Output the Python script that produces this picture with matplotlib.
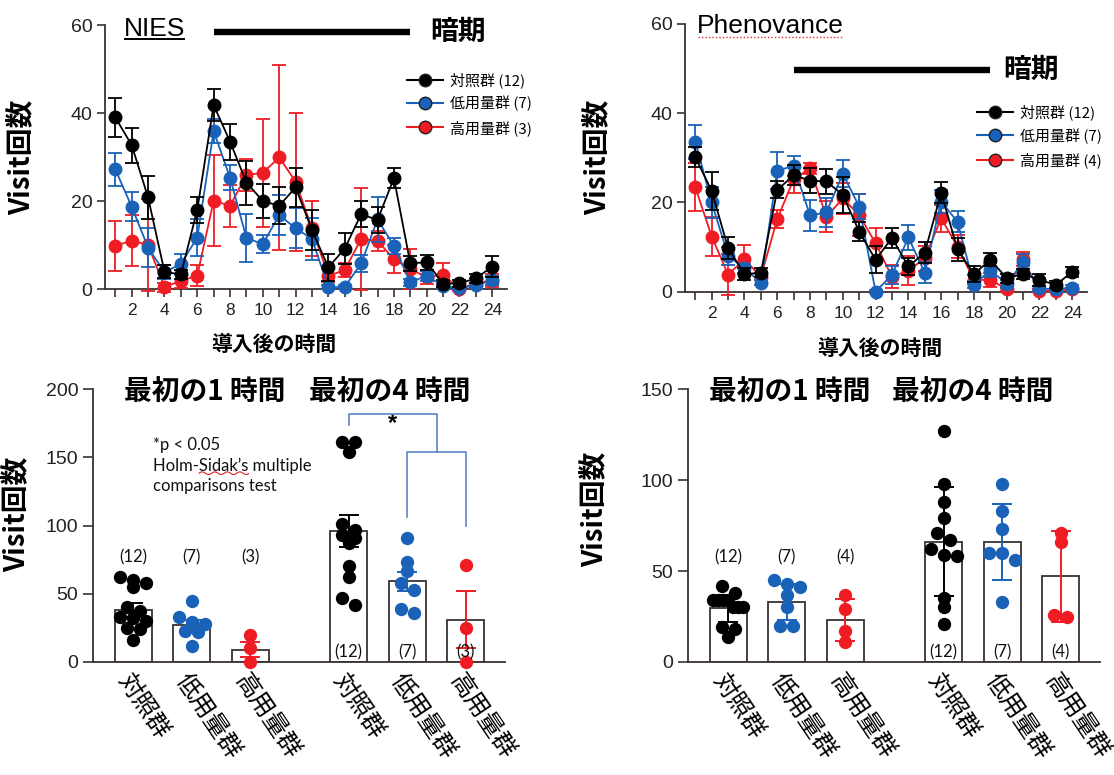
import numpy as np
import matplotlib
matplotlib.use('Agg')
import matplotlib.pyplot as plt
from matplotlib.lines import Line2D

CJK = ['Noto Sans CJK JP', 'DejaVu Sans']
ARIAL = ['Liberation Sans', 'DejaVu Sans']
LATO = ['Lato', 'DejaVu Sans']
NARROW = ['Liberation Sans Narrow', 'Liberation Sans', 'DejaVu Sans']
plt.rcParams['font.family'] = CJK

# ---------------- data ----------------
hours = list(range(1, 25))
hour_tick_labels = [str(h) if h % 2 == 0 else '' for h in hours]
dark_period = (7, 19)
group_names = ['対照群', '低用量群', '高用量群']

# NIES – hourly visits (mean, SEM)
nies_ctrl = [39.0, 32.7, 20.8, 3.9, 3.3, 18.0, 41.8, 33.5, 24.2, 20.0, 18.9, 23.1,
             13.4, 4.9, 9.2, 17.0, 15.7, 25.2, 5.8, 6.1, 1.2, 1.3, 2.4, 5.1]
nies_ctrl_err = [4.4, 4.0, 4.8, 1.5, 1.0, 3.0, 3.6, 4.1, 5.0, 3.8, 4.2, 4.5,
                 4.5, 3.0, 3.5, 2.9, 3.0, 2.3, 1.7, 1.7, 0.8, 0.8, 1.0, 2.3]
nies_low = [27.2, 18.7, 9.4, 3.8, 5.7, 11.7, 35.9, 25.3, 11.6, 10.2, 16.8, 13.8,
            11.4, 0.4, 0.5, 5.8, 15.8, 9.8, 1.5, 3.0, 0.7, 0.2, 0.8, 2.0]
nies_low_err = [3.7, 3.3, 4.4, 1.6, 2.2, 4.2, 2.7, 2.9, 5.5, 2.1, 4.5, 4.5,
                4.7, 0.5, 0.5, 2.0, 5.1, 1.9, 0.8, 1.1, 0.5, 0.3, 0.6, 1.0]
nies_high = [9.8, 11.0, 10.0, 0.4, 1.9, 3.0, 20.1, 18.9, 25.9, 26.4, 29.9, 24.4,
             13.8, 3.0, 4.3, 11.4, 10.9, 6.8, 4.5, 2.7, 3.2, 0.0, 1.4, 1.9]
nies_high_err = [5.7, 5.8, 10.5, 1.0, 1.6, 2.4, 10.4, 4.7, 3.6, 12.3, 21.0, 15.7,
                 6.3, 1.5, 1.5, 11.6, 2.2, 3.2, 4.5, 1.5, 2.6, 0.5, 1.0, 1.5]
nies_n = [12, 7, 3]

# Phenovance – hourly visits (mean, SEM)
pheno_ctrl = [30.1, 22.6, 9.8, 4.0, 4.3, 22.8, 26.1, 24.9, 24.7, 21.7, 13.5, 7.2,
              12.1, 5.7, 8.8, 22.2, 9.5, 4.0, 7.2, 3.1, 4.0, 2.7, 1.6, 4.5]
pheno_ctrl_err = [2.2, 4.3, 2.4, 1.3, 1.0, 1.9, 2.2, 2.7, 2.8, 4.0, 2.2, 3.0,
                  2.3, 2.0, 2.4, 2.4, 2.6, 1.8, 1.5, 1.0, 1.2, 1.4, 0.8, 1.1]
pheno_low = [33.6, 20.0, 8.1, 5.3, 2.1, 27.1, 28.2, 17.1, 17.8, 26.4, 19.1, 0.1,
             3.8, 12.2, 4.3, 20.2, 15.7, 1.6, 4.9, 1.8, 6.6, 0.8, 0.6, 1.0]
pheno_low_err = [3.8, 3.5, 2.0, 1.0, 0.6, 4.1, 2.2, 3.5, 3.2, 3.0, 2.8, 0.3,
                 2.0, 2.8, 2.3, 2.6, 2.4, 0.8, 1.5, 0.8, 1.8, 0.5, 0.4, 0.5]
pheno_high = [23.4, 12.4, 3.9, 7.3, 3.4, 16.3, 25.2, 27.6, 16.8, 20.9, 17.2, 10.9,
              3.4, 4.8, 7.5, 16.5, 10.1, 2.7, 2.7, 0.7, 7.3, 0.3, 0.3, 0.6]
pheno_high_err = [5.4, 4.3, 4.5, 3.2, 0.8, 2.0, 3.0, 1.2, 3.5, 3.5, 4.7, 3.5,
                  2.6, 3.3, 2.8, 3.0, 2.6, 1.0, 1.5, 0.5, 1.6, 0.3, 0.3, 0.4]
pheno_n = [12, 7, 4]

# NIES – first 1 h / first 4 h (individual animals, bar mean, SEM)
nies_1h_ctrl = [62, 60, 58, 55, 40, 37, 33, 32, 30, 25, 24, 16]
nies_1h_low = [45, 33, 29, 28, 23, 22, 12]
nies_1h_high = [20, 10, 0]
nies_4h_ctrl = [161, 161, 154, 101, 97, 93, 91, 87, 70, 62, 47, 42]
nies_4h_low = [91, 73, 67, 58, 53, 39, 36]
nies_4h_high = [71, 25, 0]
nies_bar_mean = [38, 27, 9, 96, 59, 31]
nies_bar_err = [5, 3.5, 5.5, 12, 7, 21]

# Phenovance – first 1 h / first 4 h (individual animals, bar mean, SD)
pheno_1h_ctrl = [42, 38, 34, 34, 34, 34, 30, 30, 30, 19, 18, 14]
pheno_1h_low = [45, 43, 41, 37, 30, 20, 20]
pheno_1h_high = [37, 29, 17, 11]
pheno_4h_ctrl = [127, 98, 88, 79, 71, 67, 62, 59, 58, 35, 30, 21]
pheno_4h_low = [98, 83, 73, 60, 60, 56, 33]
pheno_4h_high = [71, 66, 26, 25]
pheno_bar_mean = [29.5, 33, 23, 66, 66, 47]
pheno_bar_err = [7.5, 10, 11.5, 30, 21, 25]

# ---------------- style ----------------
AXC = '#3a3232'
BLACK, BLUE, RED = '#000000', '#1a62b8', '#f01c24'
colors = [BLACK, BLUE, RED]
W, H = 1114, 775
fig = plt.figure(figsize=(W / 100, H / 100), dpi=100)


def px_axes(l, r, top, bottom):
    return fig.add_axes([l / W, 1 - bottom / H, (r - l) / W, (bottom - top) / H])


def style_spines(ax):
    for s in ('top', 'right'):
        ax.spines[s].set_visible(False)
    for s in ('left', 'bottom'):
        ax.spines[s].set_color(AXC)
        ax.spines[s].set_linewidth(1.3)


def time_panel(ax, series, errs, ns, bar_y, label_x):
    style_spines(ax)
    zs = [5, 4, 3]
    for vals, err, col, z in zip(series, errs, colors, zs):
        cont = ax.errorbar(hours, vals, yerr=err, fmt='-o', color=col, ms=9, mec=col,
                           lw=1.3, elinewidth=1.3, capsize=5, capthick=1.3, zorder=z)
        for a in cont.get_children():
            a.set_clip_on(False)
        cont.lines[0].set_zorder(z + 0.5)
    ax.set_xlim(0.37, 24.9)
    ax.set_ylim(0, 60)
    ax.set_yticks([0, 20, 40, 60])
    ax.set_xticks(hours)
    ax.set_xticklabels(hour_tick_labels)
    ax.tick_params(axis='y', length=6, width=1.2, color=AXC, labelsize=14, pad=3,
                   labelcolor='#222222')
    ax.tick_params(axis='x', length=6, width=1.2, color=AXC, labelsize=12.5, pad=4,
                   labelcolor='#222222')
    for lbl in ax.get_xticklabels() + ax.get_yticklabels():
        lbl.set_fontfamily(ARIAL)
    ax.set_ylabel('Visit回数', fontsize=20, fontweight='bold', labelpad=0)
    ax.set_xlabel('導入後の時間', fontsize=15, fontweight='bold')
    # dark period bar
    ax.plot(dark_period, [bar_y, bar_y], color='black', lw=4.6,
            solid_capstyle='butt', clip_on=False)
    ax.text(label_x, bar_y, '暗期', fontsize=20, fontweight='bold', va='center', ha='left')
    handles = [Line2D([0], [0], color=c, marker='o', ms=9, mfc=c, mec='#202020', lw=1.5)
               for c in colors]
    labels = [f'{g} ({n})' for g, n in zip(group_names, ns)]
    return handles, labels


def swarm_offsets(ax, xc, vals, dx_max, row_px, row_span):
    """GraphPad-like scatter: points binned into rows, each row centred."""
    tr = ax.transData
    vals = np.asarray(vals, dtype=float)
    ypx = tr.transform(np.column_stack([np.full(len(vals), xc), vals]))[:, 1]
    xunit = tr.transform((1, 0))[0] - tr.transform((0, 0))[0]
    order = list(np.argsort(-vals, kind='stable'))
    rows, cur = [], [order[0]]
    for i in order[1:]:
        if ypx[cur[0]] - ypx[i] <= row_px:
            cur.append(i)
        else:
            rows.append(cur)
            cur = [i]
    rows.append(cur)
    offs = np.zeros(len(vals))
    for row in rows:
        n = len(row)
        dx = dx_max if n < 3 else min(dx_max, row_span / (n - 1))
        for k, i in enumerate(row):
            offs[i] = (k - (n - 1) / 2) * dx / xunit
    return offs


bar_pos = np.concatenate([np.arange(3), np.arange(3) + 3.68]) + 1.0


def bar_panel(ax, groups, means, errs, ymax, n_above_y):
    style_spines(ax)
    ax.set_xlim(0.31, 7.35)
    ax.set_ylim(0, ymax)
    ax.set_yticks(np.arange(0, ymax + 1, 50))
    ax.bar(bar_pos, means, width=0.63, color='white', edgecolor=AXC, linewidth=1.3, zorder=2)
    for i, (p, pts) in enumerate(zip(bar_pos, groups)):
        col = colors[i % 3]
        offs = swarm_offsets(ax, p, pts, 13.0, 8.0, 30.0)
        ax.scatter(p + offs, pts, s=92, color=col, linewidths=0, zorder=3, clip_on=False)
        ax.errorbar(p, means[i], yerr=errs[i], color=col, capsize=7, elinewidth=1.4,
                    capthick=1.4, zorder=4)
    for i, (p, pts) in enumerate(zip(bar_pos, groups)):
        y = n_above_y if i < 3 else ymax * 0.035
        ax.text(p, y, f'({len(pts)})', ha='center', va='center', fontsize=12,
                family=LATO, color='#111111', zorder=5)
    ax.set_xticks(bar_pos)
    ax.set_xticklabels(group_names * 2)
    ax.tick_params(axis='x', length=0, pad=5, labelsize=17.5)
    ax.tick_params(axis='y', length=7.5, width=1.2, color=AXC, labelsize=14, pad=3,
                   labelcolor='#222222')
    for lbl in ax.get_yticklabels():
        lbl.set_fontfamily(ARIAL)
    for lbl in ax.get_xticklabels():
        lbl.set_rotation(-56)
        lbl.set_ha('left')
        lbl.set_va('top')
        lbl.set_rotation_mode('anchor')
    ax.set_ylabel('Visit回数', fontsize=20, fontweight='bold', labelpad=0)


legend_kw = dict(loc='upper left', frameon=False, fontsize=10.8, handlelength=2.4,
                 handletextpad=0.5, labelspacing=0.55, borderpad=0, borderaxespad=0)

# ---------------- top-left: NIES ----------------
ax1 = px_axes(105, 507, 25, 289)
h, l = time_panel(ax1, [nies_ctrl, nies_low, nies_high],
                  [nies_ctrl_err, nies_low_err, nies_high_err], nies_n, 58.4, 20.2)
ax1.legend(h, l, bbox_to_anchor=(0.751, 0.822), **legend_kw)
ax1.yaxis.set_label_coords(-0.17, 0.5)
ax1.xaxis.set_label_coords(0.42, -0.17)
t_nies = ax1.text(0.047, 0.985, 'NIES', transform=ax1.transAxes, fontsize=19,
                  family=NARROW, va='center', ha='left')

# ---------------- top-right: Phenovance ----------------
ax2 = px_axes(685, 1087, 23.5, 292)
h, l = time_panel(ax2, [pheno_ctrl, pheno_low, pheno_high],
                  [pheno_ctrl_err, pheno_low_err, pheno_high_err], pheno_n, 49.6, 19.8)
ax2.legend(h, l, bbox_to_anchor=(0.726, 0.70), **legend_kw)
ax2.yaxis.set_label_coords(-0.18, 0.5)
ax2.xaxis.set_label_coords(0.485, -0.17)
t_pheno = ax2.text(0.03, 0.99, 'Phenovance', transform=ax2.transAxes, fontsize=19,
                   family=ARIAL, va='center', ha='left')

# ---------------- bottom-left: NIES first hours ----------------
ax3 = px_axes(93, 505, 389, 662)
bar_panel(ax3, [nies_1h_ctrl, nies_1h_low, nies_1h_high,
                nies_4h_ctrl, nies_4h_low, nies_4h_high],
          nies_bar_mean, nies_bar_err, 200, 77)
ax3.yaxis.set_label_coords(-0.15, 0.54)
ax3.text(0.272, 0.985, '最初の1 時間', transform=ax3.transAxes, fontsize=20,
         fontweight='bold', ha='center', va='center')
ax3.text(0.721, 0.985, '最初の4 時間', transform=ax3.transAxes, fontsize=20,
         fontweight='bold', ha='center', va='center')
note = ax3.text(0.146, 0.825, '*p < 0.05\nHolm-Sidak\u2019s multiple\ncomparisons test',
                transform=ax3.transAxes, fontsize=12, family=LATO, ha='left', va='top',
                linespacing=1.35, color='#111111')
# significance bracket
BR = '#5a86c6'
b4, b5, b6 = bar_pos[3], bar_pos[4], bar_pos[5]
mid56 = (b5 + b6) / 2
ax3.plot([b4, b4, mid56, mid56], [173.5, 182, 182, 153.7], color=BR, lw=1.2, zorder=6)
ax3.plot([b5, b5, b6, b6], [106, 153.7, 153.7, 99.6], color=BR, lw=1.2, zorder=6)
ax3.text((b4 + mid56) / 2, 175, '*', ha='center', va='center', fontsize=17,
         fontweight='bold', family=ARIAL)

# ---------------- bottom-right: Phenovance first hours ----------------
ax4 = px_axes(688, 1100, 389, 662)
bar_panel(ax4, [pheno_1h_ctrl, pheno_1h_low, pheno_1h_high,
                pheno_4h_ctrl, pheno_4h_low, pheno_4h_high],
          pheno_bar_mean, pheno_bar_err, 150, 57.7)
ax4.yaxis.set_label_coords(-0.19, 0.56)
ax4.text(0.248, 0.985, '最初の1 時間', transform=ax4.transAxes, fontsize=20,
         fontweight='bold', ha='center', va='center')
ax4.text(0.692, 0.985, '最初の4 時間', transform=ax4.transAxes, fontsize=20,
         fontweight='bold', ha='center', va='center')

# ---------------- underline decorations ----------------
fig.canvas.draw()
r = fig.canvas.get_renderer()
inv = fig.transFigure.inverted()

bb = t_nies.get_window_extent(r)
p0 = inv.transform((bb.x0 + 1, bb.y0 + 2))
p1 = inv.transform((bb.x1 - 1, bb.y0 + 2))
fig.add_artist(Line2D([p0[0], p1[0]], [p0[1], p1[1]], color='black', lw=1.4,
                      transform=fig.transFigure))

bb = t_pheno.get_window_extent(r)
p0 = inv.transform((bb.x0 + 1, bb.y0 + 1))
p1 = inv.transform((bb.x1 - 1, bb.y0 + 1))
fig.add_artist(Line2D([p0[0], p1[0]], [p0[1], p1[1]], color='#e03030', lw=1.0,
                      ls=(0, (1, 1.5)), transform=fig.transFigure))

# wavy spell-check line under "Sidak's"
bbn = note.get_window_extent(r)
tmp1 = ax3.text(0, 0, 'Holm-', fontsize=12, family=LATO)
tmp2 = ax3.text(0, 0, 'Holm-Sidak\u2019s', fontsize=12, family=LATO)
w1 = tmp1.get_window_extent(r).width
w2 = tmp2.get_window_extent(r).width
tmp1.remove(); tmp2.remove()
line_h = bbn.height / 3
ybase = bbn.y1 - 2 * line_h + 2
xs = np.linspace(bbn.x0 + w1, bbn.x0 + w2, 60)
ys = ybase + 1.3 * np.sin((xs - xs[0]) / 2.0)
pts = inv.transform(np.column_stack([xs, ys]))
fig.add_artist(Line2D(pts[:, 0], pts[:, 1], color='#e02020', lw=0.8,
                      transform=fig.transFigure))

fig.savefig('out.png', dpi=100)
